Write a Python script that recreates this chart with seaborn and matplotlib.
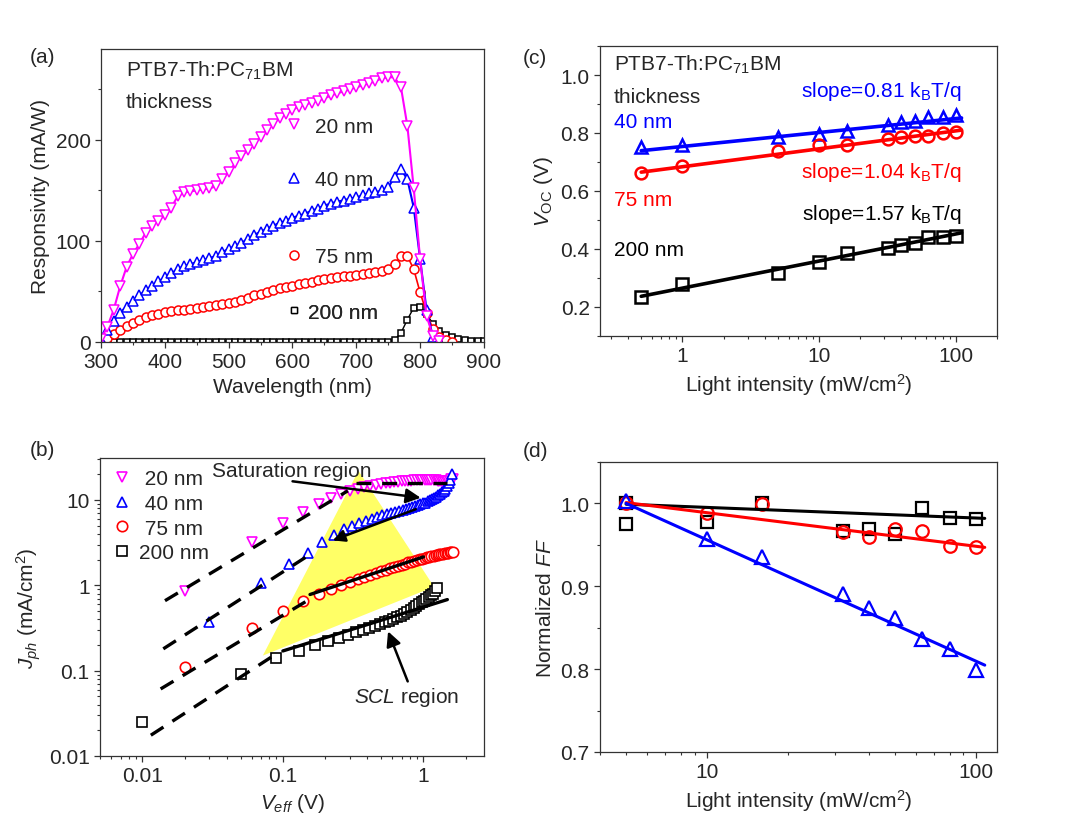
import numpy as np
import seaborn as sns
import matplotlib.pyplot as plt
import matplotlib.ticker as mticker
from matplotlib.lines import Line2D

# ---- (a) responsivity spectra ----
wl_20 = np.arange(300, 831, 10)
resp_20 = [3, 15, 32, 55, 74, 87, 97, 108, 115, 120,
           126, 133, 144, 148, 149, 150, 151, 152, 154, 161,
           168, 177, 184, 190, 196, 203, 210, 216, 222, 226,
           230, 233, 235, 237, 239, 241, 244, 246, 248, 250,
           252, 254, 256, 258, 261, 262, 262, 252, 214, 152,
           82, 26, 6, 1]
wl_40 = np.arange(300, 831, 10)
resp_40 = [2, 12, 21, 29, 35, 41, 46, 51, 55, 60,
           64, 68, 72, 75, 77, 79, 81, 83, 85, 89,
           92, 95, 98, 102, 106, 109, 112, 115, 118, 120,
           123, 125, 127, 130, 132, 135, 137, 139, 140, 142,
           143, 145, 147, 148, 150, 153, 163, 171, 161, 133,
           82, 32, 5, 1]
wl_75 = np.arange(300, 851, 10)
resp_75 = [1, 4, 8, 12, 16, 19, 22, 25, 27, 28,
           30, 31, 32, 32, 33, 34, 35, 36, 37, 38,
           39, 40, 42, 44, 46, 47, 49, 51, 53, 54,
           55, 57, 58, 59, 61, 62, 63, 64, 65, 65,
           66, 67, 68, 69, 70, 72, 77, 85, 85, 72,
           49, 29, 13, 5, 2, 0]
wl_200 = np.arange(300, 901, 10)
resp_200 = [0] * 46 + [2, 9, 22, 34, 35, 28, 18, 11, 7, 5, 3, 2, 1, 1, 0.5]

# ---- (b) photocurrent vs effective voltage ----
veff_20 = np.round(0.02 + 0.04 * np.arange(41), 2)
jph_20 = [0.86, 3.2, 5.3, 7.3, 9.0, 10.6, 11.8, 12.8, 13.5, 14.1,
          14.6, 15.0, 15.3, 15.6, 15.9, 16.1, 16.3, 16.5, 16.7, 16.8,
          16.9, 17.0, 17.1, 17.2, 17.2, 17.3, 17.3, 17.3, 17.3, 17.2,
          17.1, 16.9, 16.7, 16.5, 16.4, 16.3, 16.3, 16.5, 16.9, 17.4,
          17.8]
veff_40 = np.round(0.03 + 0.04 * np.arange(40), 2)
jph_40 = [0.37, 1.05, 1.8, 2.42, 3.2, 3.9, 4.6, 5.0, 5.4, 5.7,
          6.0, 6.3, 6.6, 6.8, 7.0, 7.3, 7.5, 7.7, 7.9, 8.1,
          8.3, 8.5, 8.7, 8.9, 9.1, 9.3, 9.6, 9.9, 10.2, 10.5,
          10.9, 11.4, 11.9, 12.4, 12.9, 13.5, 14.5, 15.8, 17.3, 20.3]
veff_75 = np.round(0.02 + 0.04 * np.arange(41), 2)
jph_75 = [0.11, 0.32, 0.50, 0.66, 0.79, 0.90, 1.00, 1.10, 1.18, 1.26,
          1.33, 1.40, 1.47, 1.53, 1.59, 1.65, 1.70, 1.75, 1.80, 1.85,
          1.89, 1.94, 1.98, 2.02, 2.06, 2.10, 2.13, 2.16, 2.19, 2.22,
          2.25, 2.28, 2.30, 2.32, 2.35, 2.37, 2.39, 2.41, 2.43, 2.44,
          2.45]
veff_200 = np.round(0.01 + 0.04 * np.arange(32), 2)
jph_200 = [0.025, 0.092, 0.14, 0.172, 0.20, 0.22, 0.24, 0.26, 0.28, 0.30,
           0.32, 0.335, 0.35, 0.37, 0.385, 0.40, 0.42, 0.44, 0.46, 0.48,
           0.51, 0.54, 0.57, 0.60, 0.63, 0.66, 0.69, 0.73, 0.76, 0.80,
           0.85, 0.92]

# guide lines (start, end)
dash_v = [[0.0145, 0.29], [0.33, 1.48], [0.0141, 0.16], [0.0135, 0.165], [0.0115, 0.095]]
dash_j = [[0.66, 12.8], [15.8, 15.8], [0.18, 2.36], [0.061, 0.73], [0.0175, 0.167]]
solid_v = [[0.156, 1.0], [0.1, 1.48]]
solid_j = [[0.78, 2.15], [0.17, 0.68]]
shade_v = [0.072, 0.345, 1.19]
shade_j = [0.15, 22, 0.96]

# ---- (c) Voc vs light intensity ----
int_c = [0.5, 1, 5, 10, 16, 32, 40, 50, 63, 80, 100]
voc_40 = [0.751, 0.760, 0.785, 0.797, 0.808, 0.827, 0.837, 0.842, 0.854, 0.856, 0.863]
voc_75 = [0.663, 0.686, 0.737, 0.757, 0.760, 0.780, 0.785, 0.791, 0.789, 0.799, 0.805]
voc_200 = [0.233, 0.279, 0.317, 0.354, 0.385, 0.402, 0.414, 0.419, 0.440, 0.442, 0.446]
slope_n = [0.81, 1.04, 1.57]
voc_at_1sun_unit = [0.7535, 0.6836, 0.265]
KT_Q = 0.02585

# ---- (d) normalized FF vs light intensity ----
int_d = [5, 10, 16, 32, 40, 50, 63, 80, 100]
int_d_200 = [5, 5, 10, 16, 32, 40, 50, 63, 80, 100]
ff_200 = [1.0, 0.975, 0.977, 1.0, 0.967, 0.969, 0.963, 0.995, 0.982, 0.981]
ff_75 = [1.0, 0.989, 0.999, 0.965, 0.959, 0.969, 0.967, 0.949, 0.947]
ff_40 = [1.003, 0.957, 0.935, 0.891, 0.874, 0.862, 0.836, 0.824, 0.799]
ff_fit_a = [1.008, 1.0293, 1.1023]
ff_fit_b = [-0.0128, -0.0405, -0.1463]

MAG, BLU, RED, BLK = "#ff00ff", "#0000ff", "#ff0000", "#000000"
FS = 15

sns.set_style("ticks")
plt.rcParams["font.family"] = ["Liberation Sans", "DejaVu Sans"]
plt.rcParams["mathtext.fontset"] = "custom"
plt.rcParams["mathtext.rm"] = "Liberation Sans"
plt.rcParams["mathtext.it"] = "Liberation Sans:italic"
plt.rcParams["mathtext.bf"] = "Liberation Sans:bold"
plt.rcParams["font.size"] = FS


def style_axes(ax):
    for s in ax.spines.values():
        s.set_visible(True)
        s.set_linewidth(0.9)
        s.set_color("#333333")
    ax.tick_params(which="major", direction="out", length=4, width=0.9,
                   labelsize=FS, color="#333333", top=False, right=False)
    ax.tick_params(which="minor", direction="out", length=2.2, width=0.8,
                   color="#333333", top=False, right=False)


def tag(ax, handle, label, x, y, pad=0.6):
    leg = ax.legend([handle], [label], loc="center left", bbox_to_anchor=(x, y),
                    frameon=False, handlelength=0.8, handletextpad=pad,
                    borderpad=0, borderaxespad=0, fontsize=FS)
    ax.add_artist(leg)


fig = plt.figure(figsize=(10.8, 8.29), dpi=100)
ax_a = fig.add_axes([0.0935, 0.5863, 0.3546, 0.3534])
ax_b = fig.add_axes([0.0926, 0.0869, 0.3556, 0.3594])
ax_c = fig.add_axes([0.5556, 0.5935, 0.3676, 0.3498])
ax_d = fig.add_axes([0.5556, 0.0917, 0.3676, 0.3498])

# ---------------- (a)
series_a = [(wl_200, resp_200, BLK, "s", 4.5, 1.0),
            (wl_75, resp_75, RED, "o", 6.5, 1.2),
            (wl_40, resp_40, BLU, "^", 7.5, 1.5),
            (wl_20, resp_20, MAG, "v", 7.5, 1.5)]
for x, y, c, m, ms, lw in series_a:
    sns.lineplot(x=x, y=y, ax=ax_a, color=c, lw=lw, marker=m, ms=ms,
                 mfc="white", mec=c, mew=1.1, estimator=None, sort=False)
ax_a.set_xlim(300, 900)
ax_a.set_ylim(0, 290)
ax_a.xaxis.set_major_locator(mticker.MultipleLocator(100))
ax_a.xaxis.set_minor_locator(mticker.MultipleLocator(50))
ax_a.yaxis.set_major_locator(mticker.MultipleLocator(100))
ax_a.yaxis.set_minor_locator(mticker.MultipleLocator(50))
ax_a.set_xlabel("Wavelength (nm)", fontsize=FS)
ax_a.set_ylabel("Responsivity (mA/W)", fontsize=FS)
style_axes(ax_a)
ax_a.text(0.065, 0.93, "PTB7-Th:PC$_{71}$BM", transform=ax_a.transAxes,
          fontsize=FS, va="center")
ax_a.text(0.065, 0.82, "thickness", transform=ax_a.transAxes, fontsize=FS, va="center")
tag(ax_a, Line2D([], [], ls="none", marker="v", ms=7.5, mfc="white", mec=MAG, mew=1.1),
    "20 nm", 0.483, 0.737)
tag(ax_a, Line2D([], [], ls="none", marker="^", ms=7.5, mfc="white", mec=BLU, mew=1.1),
    "40 nm", 0.483, 0.553)
tag(ax_a, Line2D([], [], ls="none", marker="o", ms=6.5, mfc="white", mec=RED, mew=1.1),
    "75 nm", 0.483, 0.29)
tag(ax_a, Line2D([], [], ls="none", marker="s", ms=4.5, mfc="white", mec=BLK, mew=1.0),
    "200 nm", 0.483, 0.102, pad=0.25)

# ---------------- (b)
ax_b.fill(shade_v, shade_j, color="#ffff66", lw=0, zorder=0)
for v, j in zip(dash_v, dash_j):
    ax_b.plot(v, j, color=BLK, lw=2.4, dashes=(4.5, 3.2), zorder=4)
for v, j in zip(solid_v, solid_j):
    ax_b.plot(v, j, color=BLK, lw=2.4, zorder=4)
series_b = [(veff_20, jph_20, MAG, "v", " 20 nm"),
            (veff_40, jph_40, BLU, "^", " 40 nm"),
            (veff_75, jph_75, RED, "o", " 75 nm"),
            (veff_200, jph_200, BLK, "s", "200 nm")]
handles_b = []
for x, y, c, m, lab in series_b:
    sns.lineplot(x=x, y=y, ax=ax_b, linestyle="none", marker=m, ms=7.5,
                 mfc="white", mec=c, mew=1.2, estimator=None, sort=False, zorder=3)
    handles_b.append(Line2D([], [], ls="none", marker=m, ms=7.5, mfc="white", mec=c, mew=1.2))
ax_b.set_xscale("log")
ax_b.set_yscale("log")
ax_b.set_xlim(0.005, 2.7)
ax_b.set_ylim(0.01, 31)
fmt = mticker.FuncFormatter(lambda v, _: f"{v:g}")
for axis in (ax_b.xaxis, ax_b.yaxis):
    axis.set_major_locator(mticker.LogLocator(base=10))
    axis.set_minor_locator(mticker.LogLocator(base=10, subs=np.arange(2, 10)))
    axis.set_major_formatter(fmt)
    axis.set_minor_formatter(mticker.NullFormatter())
ax_b.set_xlabel("$V_{eff}$ (V)", fontsize=FS)
ax_b.set_ylabel("$J_{ph}$ (mA/cm$^2$)", fontsize=FS)
style_axes(ax_b)
ax_b.legend(handles_b, [s[4] for s in series_b], loc="upper left",
            bbox_to_anchor=(0.036, 0.962), frameon=False, handlelength=0.8,
            handletextpad=0.4, borderpad=0, borderaxespad=0, labelspacing=0.27,
            fontsize=FS)
ax_b.annotate("", xy=(1.0, 10.5), xytext=(0.112, 16.7),
              arrowprops=dict(arrowstyle="-|>", color=BLK, lw=1.8, mutation_scale=22), zorder=5)
ax_b.annotate("", xy=(0.217, 3.27), xytext=(0.92, 8.0),
              arrowprops=dict(arrowstyle="-|>", color=BLK, lw=1.8, mutation_scale=18), zorder=5)
ax_b.annotate("", xy=(0.551, 0.309), xytext=(0.786, 0.0697),
              arrowprops=dict(arrowstyle="-|>", color=BLK, lw=1.8, mutation_scale=22), zorder=5)
ax_b.text(0.0311, 22.3, "Saturation region", fontsize=FS, va="center", ha="left", zorder=6)
ax_b.text(0.757, 0.05, "$SCL$ region", fontsize=FS, va="center", ha="center", zorder=6)

# ---------------- (c)
int_line = np.array([0.5, 110])
for vals, c, m, n, v1 in [(voc_40, BLU, "^", slope_n[0], voc_at_1sun_unit[0]),
                          (voc_75, RED, "o", slope_n[1], voc_at_1sun_unit[1]),
                          (voc_200, BLK, "s", slope_n[2], voc_at_1sun_unit[2])]:
    sns.lineplot(x=int_c, y=vals, ax=ax_c, linestyle="none", marker=m, ms=8.5,
                 mfc="none", mec=c, mew=1.8, estimator=None, sort=False)
    ax_c.plot(int_line, v1 + n * KT_Q * np.log(int_line), color=c, lw=2.6)
ax_c.set_xscale("log")
ax_c.set_xlim(0.25, 200)
ax_c.set_ylim(0.1, 1.1)
ax_c.xaxis.set_major_locator(mticker.LogLocator(base=10))
ax_c.xaxis.set_minor_locator(mticker.LogLocator(base=10, subs=np.arange(2, 10)))
ax_c.xaxis.set_major_formatter(fmt)
ax_c.xaxis.set_minor_formatter(mticker.NullFormatter())
ax_c.yaxis.set_major_locator(mticker.MultipleLocator(0.2))
ax_c.yaxis.set_minor_locator(mticker.MultipleLocator(0.1))
ax_c.yaxis.set_major_formatter(mticker.FormatStrFormatter("%.1f"))
ax_c.set_xlabel("Light intensity (mW/cm$^2$)", fontsize=FS)
ax_c.set_ylabel(r"$V_{\mathrm{OC}}$ (V)", fontsize=FS)
style_axes(ax_c)
tc = ax_c.transAxes
ax_c.text(0.035, 0.938, "PTB7-Th:PC$_{71}$BM", transform=tc, fontsize=FS, va="center")
ax_c.text(0.035, 0.825, "thickness", transform=tc, fontsize=FS, va="center")
ax_c.text(0.035, 0.738, "40 nm", transform=tc, fontsize=FS, va="center", color=BLU)
ax_c.text(0.035, 0.472, "75 nm", transform=tc, fontsize=FS, va="center", color=RED)
ax_c.text(0.035, 0.298, "200 nm", transform=tc, fontsize=FS, va="center", color=BLK)
for lab, c, y in [("0.81", BLU, 0.846), ("1.04", RED, 0.567), ("1.57", BLK, 0.424)]:
    ax_c.text(0.911, y, "slope=" + lab + r" k$_{\mathrm{B}}$T/q", transform=tc,
              fontsize=FS, va="center", ha="right", color=c)

# ---------------- (d)
int_fit = np.array([5, 108])
sns.lineplot(x=int_d_200, y=ff_200, ax=ax_d, linestyle="none", marker="s", ms=9,
             mfc="none", mec=BLK, mew=1.6, estimator=None, sort=False)
sns.lineplot(x=int_d, y=ff_75, ax=ax_d, linestyle="none", marker="o", ms=9,
             mfc="none", mec=RED, mew=1.6, estimator=None, sort=False)
sns.lineplot(x=int_d, y=ff_40, ax=ax_d, linestyle="none", marker="^", ms=10,
             mfc="none", mec=BLU, mew=1.6, estimator=None, sort=False)
for a, b, c in zip(ff_fit_a, ff_fit_b, [BLK, RED, BLU]):
    ax_d.plot(int_fit, a + b * np.log10(int_fit), color=c, lw=2.2)
ax_d.set_xscale("log")
ax_d.set_xlim(4, 120)
ax_d.set_ylim(0.7, 1.05)
ax_d.xaxis.set_major_locator(mticker.LogLocator(base=10))
ax_d.xaxis.set_minor_locator(mticker.LogLocator(base=10, subs=np.arange(2, 10)))
ax_d.xaxis.set_major_formatter(fmt)
ax_d.xaxis.set_minor_formatter(mticker.NullFormatter())
ax_d.yaxis.set_major_locator(mticker.MultipleLocator(0.1))
ax_d.yaxis.set_minor_locator(mticker.MultipleLocator(0.05))
ax_d.yaxis.set_major_formatter(mticker.FormatStrFormatter("%.1f"))
ax_d.set_xlabel("Light intensity (mW/cm$^2$)", fontsize=FS)
ax_d.set_ylabel("Normalized $FF$", fontsize=FS)
style_axes(ax_d)

for lab, x, y in [("(a)", 0.028, 0.931), ("(b)", 0.028, 0.457),
                  ("(c)", 0.484, 0.930), ("(d)", 0.484, 0.455)]:
    fig.text(x, y, lab, fontsize=FS, va="center")

fig.savefig("out.png", dpi=100)
